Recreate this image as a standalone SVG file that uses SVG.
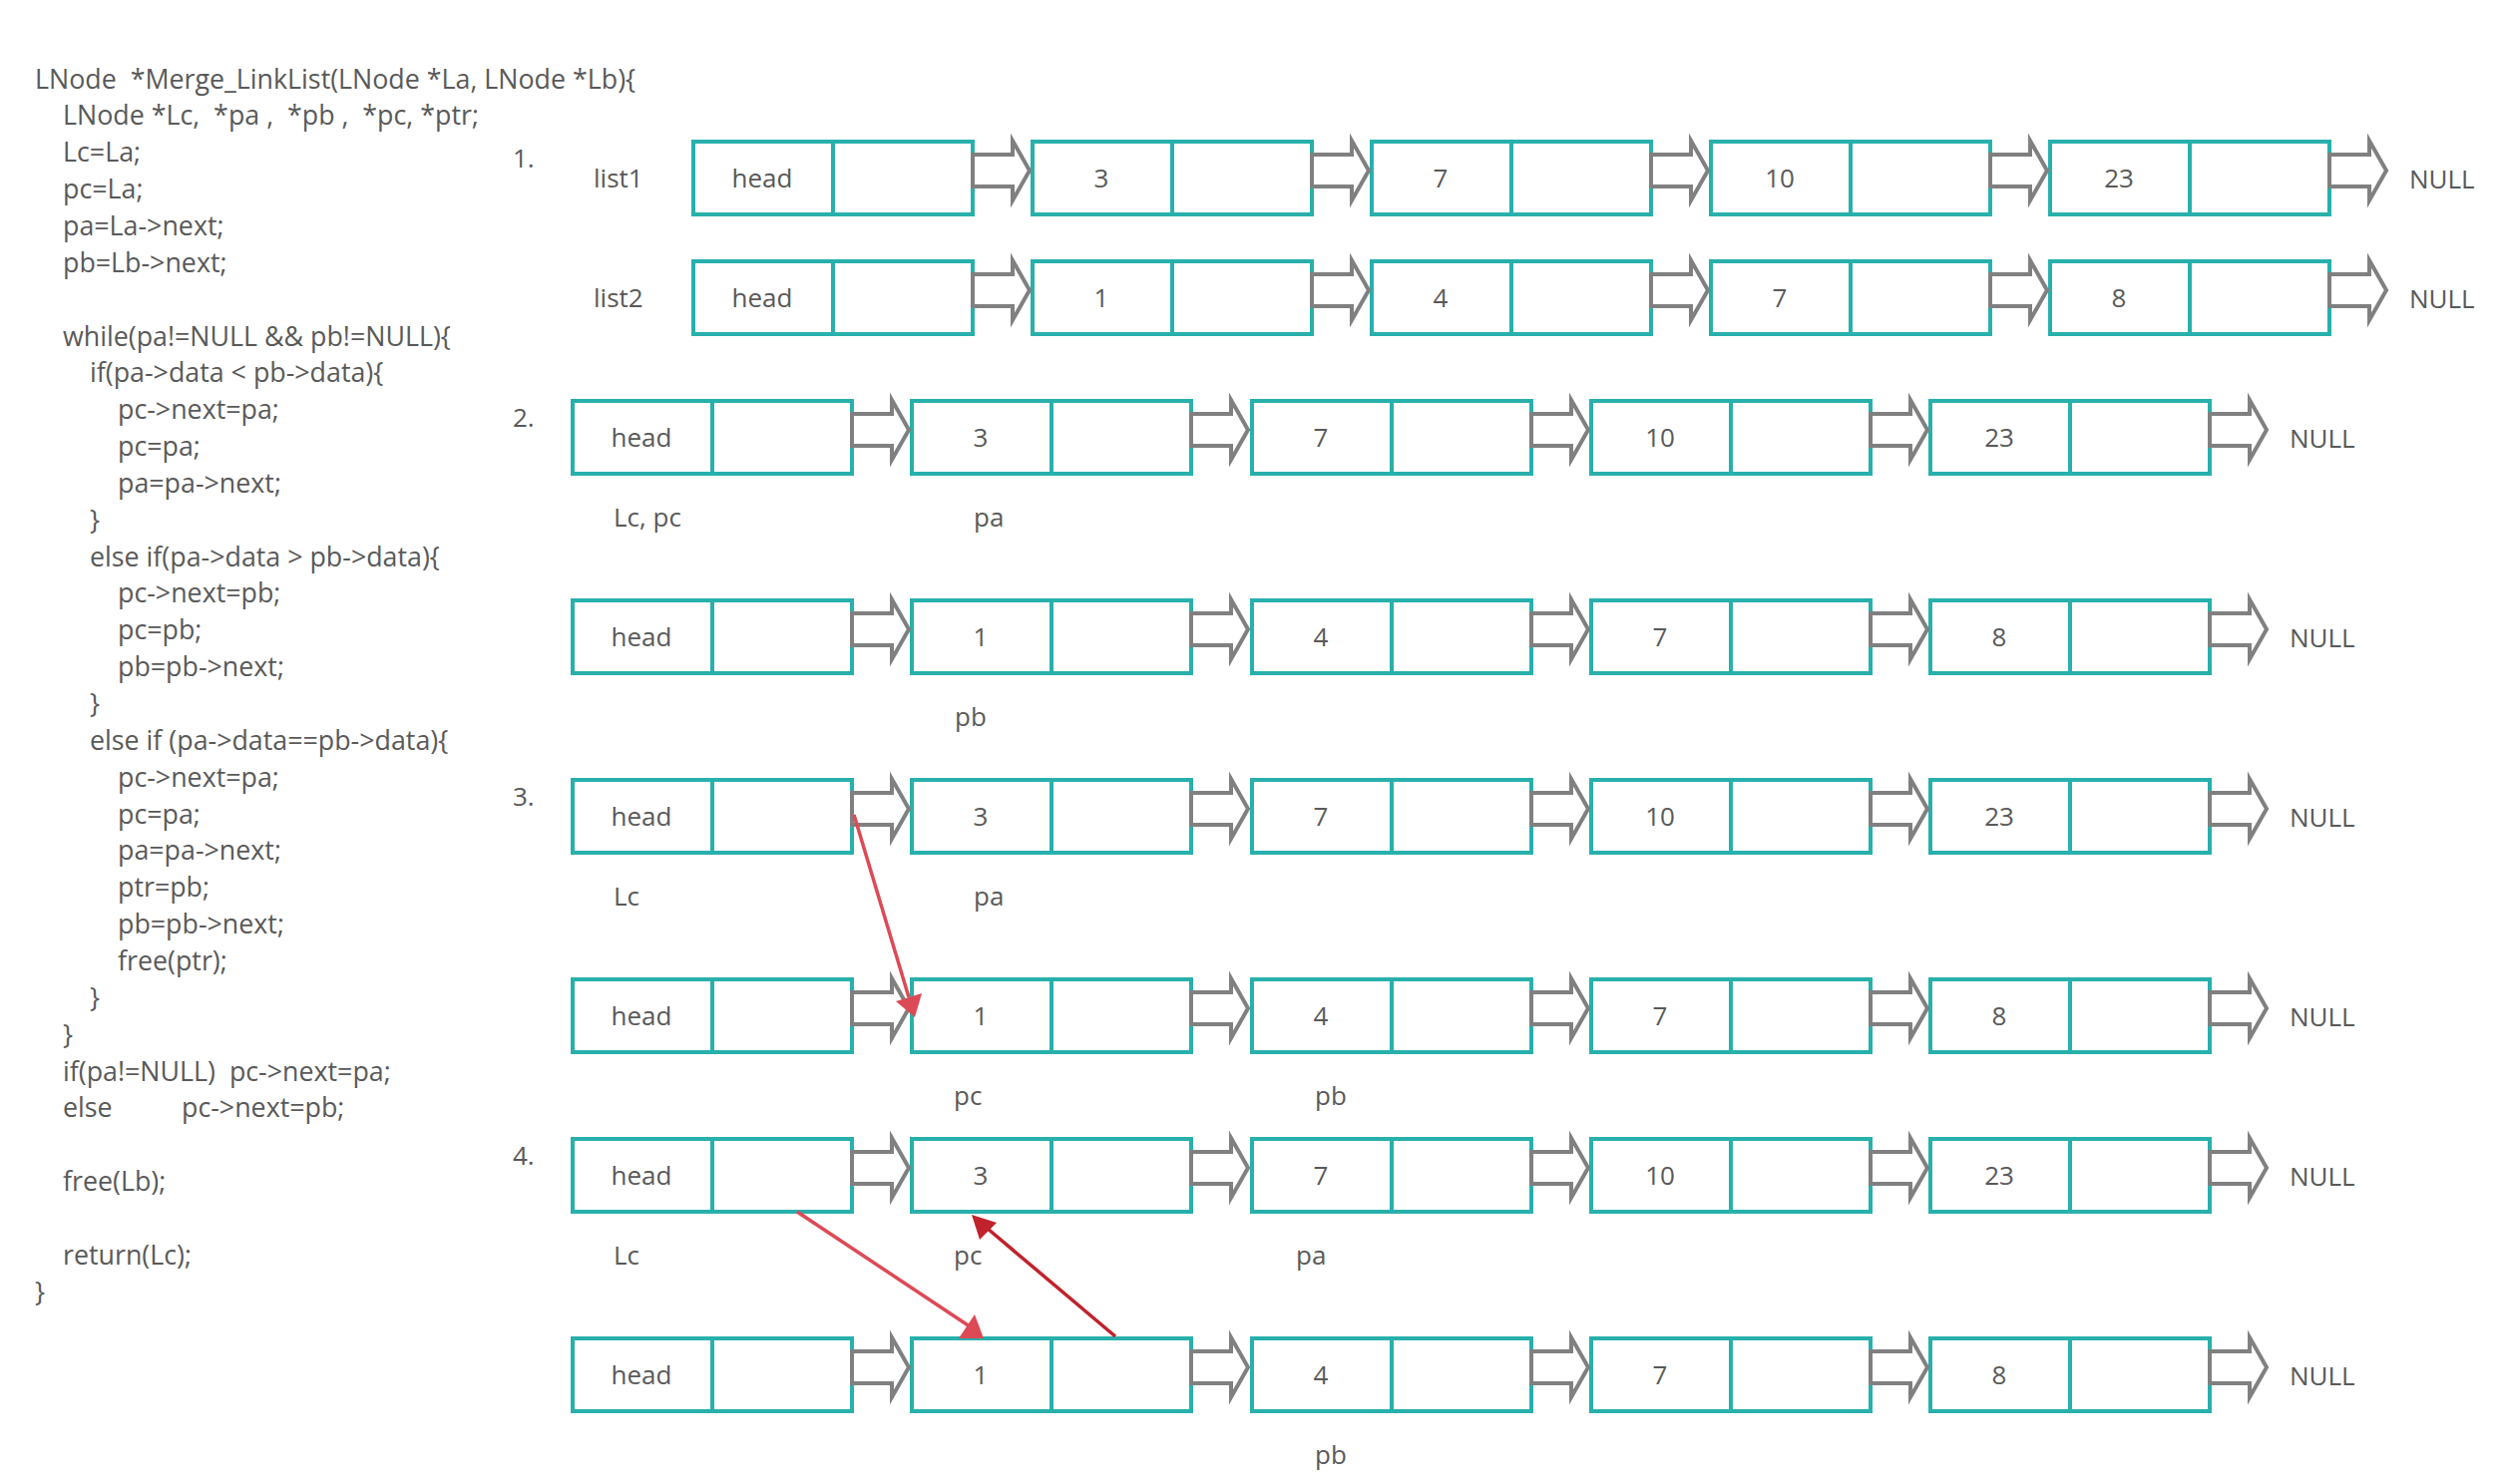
<svg xmlns="http://www.w3.org/2000/svg" width="2517" height="1488" viewBox="0 0 2517 1488">
<style>
text{font-family:"Open Sans","Noto Sans","Liberation Sans",sans-serif;fill:#595959;}
.code text{font-size:26.8px;white-space:pre;}
.t{font-size:26px;}
.c{font-size:26px;text-anchor:middle;}
.box{fill:#fff;stroke:#28b0ac;stroke-width:4;}
.div{stroke:#28b0ac;stroke-width:4;}
.arr{fill:#fff;stroke:#808080;stroke-width:4;stroke-linejoin:miter;}
.red{stroke:#dc4a56;stroke-width:3.5;fill:none;}
.redh{fill:#dc4a56;}
.dred{stroke:#c0232c;stroke-width:3.5;fill:none;}
.dredh{fill:#c0232c;}
</style>
<defs>
<g id="cell"><rect class="box" x="2" y="2" width="280" height="73"/><line class="div" x1="142" y1="2" x2="142" y2="75"/></g>
<polygon id="link" class="arr" points="-2,15 38,15 38,1 55,31 38,61 38,47 -2,47"/>
</defs>
<rect width="2517" height="1488" fill="#fff"/>

<g id="code" class="code">
<text x="35" y="88.5" xml:space="preserve">LNode  *Merge_LinkList(LNode *La, LNode *Lb){</text>
<text x="63" y="125.4" xml:space="preserve">LNode *Lc,  *pa ,  *pb ,  *pc, *ptr;</text>
<text x="63" y="162.2">Lc=La;</text>
<text x="63" y="199.1">pc=La;</text>
<text x="63" y="235.9">pa=La-&gt;next;</text>
<text x="63" y="272.8">pb=Lb-&gt;next;</text>
<text x="63" y="346.5">while(pa!=NULL &amp;&amp; pb!=NULL){</text>
<text x="90" y="383.3">if(pa-&gt;data &lt; pb-&gt;data){</text>
<text x="118" y="420.2">pc-&gt;next=pa;</text>
<text x="118" y="457">pc=pa;</text>
<text x="118" y="493.9">pa=pa-&gt;next;</text>
<text x="90" y="530.7">}</text>
<text x="90" y="567.6">else if(pa-&gt;data &gt; pb-&gt;data){</text>
<text x="118" y="604.4">pc-&gt;next=pb;</text>
<text x="118" y="641.3">pc=pb;</text>
<text x="118" y="678.1">pb=pb-&gt;next;</text>
<text x="90" y="715">}</text>
<text x="90" y="751.8">else if (pa-&gt;data==pb-&gt;data){</text>
<text x="118" y="788.7">pc-&gt;next=pa;</text>
<text x="118" y="825.5">pc=pa;</text>
<text x="118" y="862.4">pa=pa-&gt;next;</text>
<text x="118" y="899.2">ptr=pb;</text>
<text x="118" y="936.1">pb=pb-&gt;next;</text>
<text x="118" y="972.9">free(ptr);</text>
<text x="90" y="1009.8">}</text>
<text x="63" y="1046.6">}</text>
<text x="63" y="1083.5" xml:space="preserve">if(pa!=NULL)  pc-&gt;next=pa;</text>
<text x="63" y="1120.3">else<tspan x="182">pc-&gt;next=pb;</tspan></text>
<text x="63" y="1194">free(Lb);</text>
<text x="63" y="1267.7">return(Lc);</text>
<text x="35" y="1304.6">}</text>
</g>

<g id="labels" class="t">
<text x="514" y="168">1.</text>
<text x="514" y="428">2.</text>
<text x="514" y="808">3.</text>
<text x="514" y="1168">4.</text>
<text x="595" y="188">list1</text>
<text x="595" y="308">list2</text>
<text x="615" y="528">Lc, pc</text>
<text x="976" y="528">pa</text>
<text x="957" y="728">pb</text>
<text x="615" y="908">Lc</text>
<text x="976" y="908">pa</text>
<text x="956" y="1108">pc</text>
<text x="1318" y="1108">pb</text>
<text x="615" y="1268">Lc</text>
<text x="956" y="1268">pc</text>
<text x="1299" y="1268">pa</text>
<text x="1318" y="1468">pb</text>
<text x="2415" y="189">NULL</text>
<text x="2415" y="309">NULL</text>
<text x="2295" y="449">NULL</text>
<text x="2295" y="649">NULL</text>
<text x="2295" y="829">NULL</text>
<text x="2295" y="1029">NULL</text>
<text x="2295" y="1189">NULL</text>
<text x="2295" y="1389">NULL</text>
</g>

<!-- list1 -->
<g id="l1n0"><use href="#cell" x="693" y="140"/><text class="c" x="764" y="188">head</text></g>
<g id="l1n1"><use href="#cell" x="1033" y="140"/><text class="c" x="1104" y="188">3</text></g>
<g id="l1n2"><use href="#cell" x="1373" y="140"/><text class="c" x="1444" y="188">7</text></g>
<g id="l1n3"><use href="#cell" x="1713" y="140"/><text class="c" x="1784" y="188">10</text></g>
<g id="l1n4"><use href="#cell" x="2053" y="140"/><text class="c" x="2124" y="188">23</text></g>
<!-- list2 -->
<g id="l2n0"><use href="#cell" x="693" y="260"/><text class="c" x="764" y="308">head</text></g>
<g id="l2n1"><use href="#cell" x="1033" y="260"/><text class="c" x="1104" y="308">1</text></g>
<g id="l2n2"><use href="#cell" x="1373" y="260"/><text class="c" x="1444" y="308">4</text></g>
<g id="l2n3"><use href="#cell" x="1713" y="260"/><text class="c" x="1784" y="308">7</text></g>
<g id="l2n4"><use href="#cell" x="2053" y="260"/><text class="c" x="2124" y="308">8</text></g>
<!-- step 2 -->
<g id="s2an0"><use href="#cell" x="572" y="400"/><text class="c" x="643" y="448">head</text></g>
<g id="s2an1"><use href="#cell" x="912" y="400"/><text class="c" x="983" y="448">3</text></g>
<g id="s2an2"><use href="#cell" x="1253" y="400"/><text class="c" x="1324" y="448">7</text></g>
<g id="s2an3"><use href="#cell" x="1593" y="400"/><text class="c" x="1664" y="448">10</text></g>
<g id="s2an4"><use href="#cell" x="1933" y="400"/><text class="c" x="2004" y="448">23</text></g>
<g id="s2bn0"><use href="#cell" x="572" y="600"/><text class="c" x="643" y="648">head</text></g>
<g id="s2bn1"><use href="#cell" x="912" y="600"/><text class="c" x="983" y="648">1</text></g>
<g id="s2bn2"><use href="#cell" x="1253" y="600"/><text class="c" x="1324" y="648">4</text></g>
<g id="s2bn3"><use href="#cell" x="1593" y="600"/><text class="c" x="1664" y="648">7</text></g>
<g id="s2bn4"><use href="#cell" x="1933" y="600"/><text class="c" x="2004" y="648">8</text></g>
<!-- step 3 -->
<g id="s3an0"><use href="#cell" x="572" y="780"/><text class="c" x="643" y="828">head</text></g>
<g id="s3an1"><use href="#cell" x="912" y="780"/><text class="c" x="983" y="828">3</text></g>
<g id="s3an2"><use href="#cell" x="1253" y="780"/><text class="c" x="1324" y="828">7</text></g>
<g id="s3an3"><use href="#cell" x="1593" y="780"/><text class="c" x="1664" y="828">10</text></g>
<g id="s3an4"><use href="#cell" x="1933" y="780"/><text class="c" x="2004" y="828">23</text></g>
<g id="s3bn0"><use href="#cell" x="572" y="980"/><text class="c" x="643" y="1028">head</text></g>
<g id="s3bn1"><use href="#cell" x="912" y="980"/><text class="c" x="983" y="1028">1</text></g>
<g id="s3bn2"><use href="#cell" x="1253" y="980"/><text class="c" x="1324" y="1028">4</text></g>
<g id="s3bn3"><use href="#cell" x="1593" y="980"/><text class="c" x="1664" y="1028">7</text></g>
<g id="s3bn4"><use href="#cell" x="1933" y="980"/><text class="c" x="2004" y="1028">8</text></g>
<!-- step 4 -->
<g id="s4an0"><use href="#cell" x="572" y="1140"/><text class="c" x="643" y="1188">head</text></g>
<g id="s4an1"><use href="#cell" x="912" y="1140"/><text class="c" x="983" y="1188">3</text></g>
<g id="s4an2"><use href="#cell" x="1253" y="1140"/><text class="c" x="1324" y="1188">7</text></g>
<g id="s4an3"><use href="#cell" x="1593" y="1140"/><text class="c" x="1664" y="1188">10</text></g>
<g id="s4an4"><use href="#cell" x="1933" y="1140"/><text class="c" x="2004" y="1188">23</text></g>
<g id="s4bn0"><use href="#cell" x="572" y="1340"/><text class="c" x="643" y="1388">head</text></g>
<g id="s4bn1"><use href="#cell" x="912" y="1340"/><text class="c" x="983" y="1388">1</text></g>
<g id="s4bn2"><use href="#cell" x="1253" y="1340"/><text class="c" x="1324" y="1388">4</text></g>
<g id="s4bn3"><use href="#cell" x="1593" y="1340"/><text class="c" x="1664" y="1388">7</text></g>
<g id="s4bn4"><use href="#cell" x="1933" y="1340"/><text class="c" x="2004" y="1388">8</text></g>

<g id="connectors">
<use href="#link" x="977" y="140"/><use href="#link" x="1317" y="140"/><use href="#link" x="1657" y="140"/><use href="#link" x="1997" y="140"/><use href="#link" x="2337" y="140"/>
<use href="#link" x="977" y="260"/><use href="#link" x="1317" y="260"/><use href="#link" x="1657" y="260"/><use href="#link" x="1997" y="260"/><use href="#link" x="2337" y="260"/>
<use href="#link" x="856" y="400"/><use href="#link" x="1196" y="400"/><use href="#link" x="1537" y="400"/><use href="#link" x="1877" y="400"/><use href="#link" x="2217" y="400"/>
<use href="#link" x="856" y="600"/><use href="#link" x="1196" y="600"/><use href="#link" x="1537" y="600"/><use href="#link" x="1877" y="600"/><use href="#link" x="2217" y="600"/>
<use href="#link" x="856" y="780"/><use href="#link" x="1196" y="780"/><use href="#link" x="1537" y="780"/><use href="#link" x="1877" y="780"/><use href="#link" x="2217" y="780"/>
<use href="#link" x="856" y="980"/><use href="#link" x="1196" y="980"/><use href="#link" x="1537" y="980"/><use href="#link" x="1877" y="980"/><use href="#link" x="2217" y="980"/>
<use href="#link" x="856" y="1140"/><use href="#link" x="1196" y="1140"/><use href="#link" x="1537" y="1140"/><use href="#link" x="1877" y="1140"/><use href="#link" x="2217" y="1140"/>
<use href="#link" x="856" y="1340"/><use href="#link" x="1196" y="1340"/><use href="#link" x="1537" y="1340"/><use href="#link" x="1877" y="1340"/><use href="#link" x="2217" y="1340"/>
<line class="red" x1="856" y1="817" x2="911" y2="1000"/>
<polygon class="redh" points="917,1020 898,1004 924,996"/>
<line class="red" x1="799" y1="1215" x2="972" y2="1330"/>
<polygon class="redh" points="961,1342 986,1342 977,1318"/>
<line class="dred" x1="1118" y1="1340" x2="990" y2="1232"/>
<polygon class="dredh" points="974,1218 999,1226 982,1243"/>
</g>
</svg>
